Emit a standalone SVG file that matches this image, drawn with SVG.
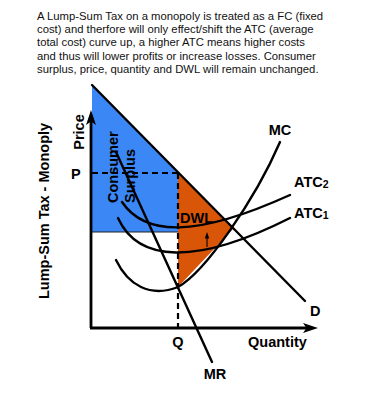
<svg xmlns="http://www.w3.org/2000/svg" width="382" height="396" viewBox="0 0 382 396">
<style>
.t{font-family:"Liberation Sans",Arial,sans-serif;font-size:11.3px;fill:#111}
.b{font-family:"Liberation Sans",Arial,sans-serif;font-weight:bold;font-size:14.5px;fill:#000}
.ln{fill:none;stroke:#000;stroke-width:2.4;stroke-linecap:round}
.ax{fill:none;stroke:#000;stroke-width:2.8}
.dash{fill:none;stroke:#000;stroke-width:2.2;stroke-dasharray:6 4}
</style>
<rect width="382" height="396" fill="#fff"/>
<g id="note">
<text class="t" x="37" y="19.5">A Lump-Sum Tax on a monopoly is treated as a FC (fixed</text>
<text class="t" x="37" y="33">cost) and therfore will only effect/shift the ATC (average</text>
<text class="t" x="37" y="46.4">total cost) curve up, a higher ATC means higher costs</text>
<text class="t" x="37" y="59.8">and thus will lower profits or increase losses. Consumer</text>
<text class="t" x="37" y="73.2">surplus, price, quantity and DWL will remain unchanged.</text>
</g>
<g id="areas">
<path id="cs" d="M92,85 L178,173 L178,232 L92,232 Z" fill="#3c87f6"/>
<line x1="92" y1="232" x2="178" y2="232" stroke="#222" stroke-width="1.2"/>
<path id="dwl" d="M178,173 L233,229 L178,287 Z" fill="#d95508"/>
</g>
<g id="axes">
<line class="ax" x1="91" y1="328" x2="91" y2="118"/>
<path d="M91,110 L96,125 L91,121.5 L86,125 Z" fill="#000"/>
<line class="ax" x1="90" y1="328" x2="310" y2="328"/>
<path d="M318,328 L303,323 L306.5,328 L303,333 Z" fill="#000"/>
</g>
<g id="connectors">
<line class="dash" x1="92" y1="173" x2="178" y2="173"/>
<line class="dash" x1="178" y1="173" x2="178" y2="328"/>
<line class="ln" id="demand" x1="92" y1="85" x2="305" y2="301"/>
<line class="ln" id="mr" x1="116" y1="152" x2="212" y2="362"/>
<path class="ln" id="mc" d="M116,260 C128,285 150,298 178,287 C205,272 255,200 280,142"/>
<path class="ln" id="atc2" d="M122,202 C145,236 195,238 290,195"/>
<path class="ln" id="atc1" d="M118,218 C138,262 195,266 290,218"/>
<line x1="207" y1="247" x2="207" y2="237" stroke="#000" stroke-width="1.1"/>
<path d="M207,232 L209.2,238.5 L204.8,238.5 Z" fill="#000"/>
</g>
<g id="labels">
<text class="b" x="180" y="223" font-size="14">DWL</text>
<text class="b" transform="translate(118,203) rotate(-90)" font-size="14.8">Consumer</text>
<text class="b" transform="translate(135,203) rotate(-90)" font-size="14.8">Surplus</text>
<text class="b" transform="translate(49,211) rotate(-90)" text-anchor="middle" font-size="15.5">Lump-Sum Tax - Monoply</text>
<text class="b" transform="translate(83.5,132) rotate(-90)" text-anchor="middle">Price</text>
<text class="b" x="71" y="179">P</text>
<text class="b" x="178" y="347" text-anchor="middle">Q</text>
<text class="b" x="248" y="347">Quantity</text>
<text class="b" x="215" y="379" text-anchor="middle">MR</text>
<text class="b" x="310" y="316">D</text>
<text class="b" x="280" y="135" text-anchor="middle">MC</text>
<text class="b" x="294" y="187">ATC<tspan font-size="10.5" dy="1">2</tspan></text>
<text class="b" x="294" y="218">ATC<tspan font-size="10.5" dy="1">1</tspan></text>
</g>
</svg>
